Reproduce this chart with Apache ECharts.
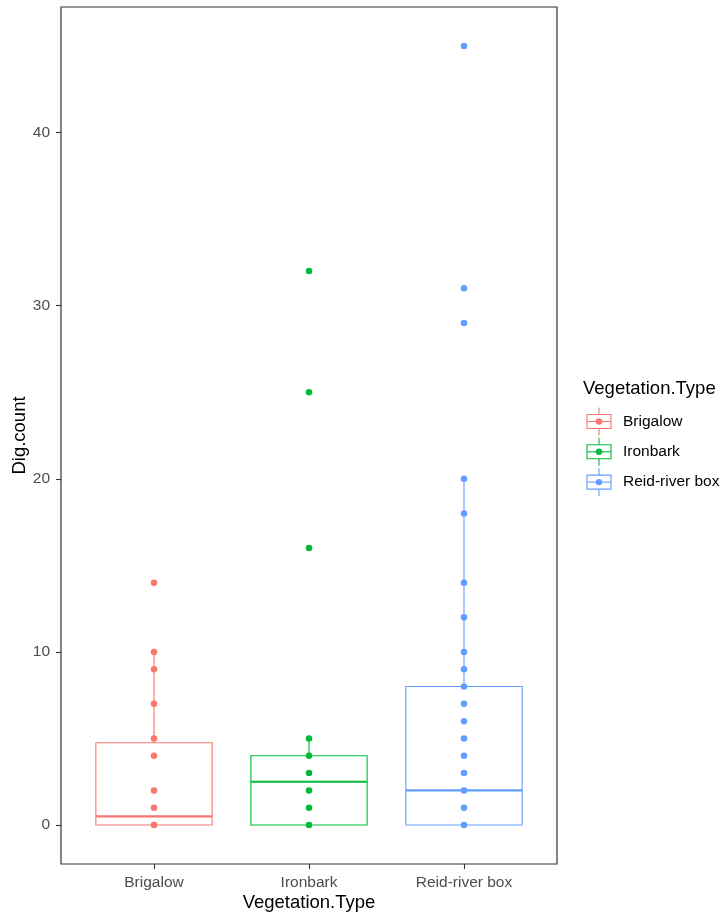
<!DOCTYPE html>
<html>
<head>
<meta charset="utf-8">
<script src="https://cdn.jsdelivr.net/npm/echarts@6/dist/echarts.min.js"></script>
<style>
  html, body { margin: 0; padding: 0; background: #ffffff; }
  #chart { width: 724px; height: 917px; }
</style>
</head>
<body>
<div id="chart"></div>
<script>
// Dig counts per vegetation type
const categories = ['Brigalow', 'Ironbark', 'Reid-river box'];
const colors = ['#F8766D', '#00BA38', '#619CFF'];
const brigalowCounts = [0, 1, 2, 4, 5, 7, 9, 10, 14];
const ironbarkCounts = [0, 1, 2, 3, 4, 5, 16, 25, 32];
const reidRiverCounts = [0, 1, 2, 3, 4, 5, 6, 7, 8, 9, 10, 12, 14, 18, 20, 29, 31, 45];
// Box summaries: [lower whisker, Q1, median, Q3, upper whisker]
const brigalowBox = [0, 0, 0.5, 4.75, 10];
const ironbarkBox = [0, 0, 2.5, 4, 5];
const reidRiverBox = [0, 0, 2, 8, 20];
const yTicks = [0, 10, 20, 30, 40];

const FONT = "'Liberation Sans', Arial, sans-serif";
const groups = [brigalowCounts, ironbarkCounts, reidRiverCounts];
const boxes = [brigalowBox, ironbarkBox, reidRiverBox];

// Boxplot without whisker caps, thick median line
function renderBox(params, api) {
  const x = api.value(0);
  const lo = api.value(1), q1 = api.value(2), med = api.value(3), q3 = api.value(4), hi = api.value(5);
  const half = api.size([0.75, 0])[0] / 2;
  const pQ1 = api.coord([x, q1]);
  const pQ3 = api.coord([x, q3]);
  const pMed = api.coord([x, med]);
  const pLo = api.coord([x, lo]);
  const pHi = api.coord([x, hi]);
  const color = colors[params.dataIndex];
  const children = [
    { type: 'rect', shape: { x: pQ1[0] - half, y: pQ3[1], width: half * 2, height: pQ1[1] - pQ3[1] },
      style: { fill: 'none', stroke: color, lineWidth: 1.1 } },
    { type: 'line', shape: { x1: pQ1[0] - half, y1: pMed[1], x2: pQ1[0] + half, y2: pMed[1] },
      style: { stroke: color, lineWidth: 2.2 } }
  ];
  if (hi > q3) {
    children.push({ type: 'line', shape: { x1: pQ3[0], y1: pQ3[1], x2: pHi[0], y2: pHi[1] },
      style: { stroke: color, lineWidth: 1.1 } });
  }
  if (lo < q1) {
    children.push({ type: 'line', shape: { x1: pQ1[0], y1: pQ1[1], x2: pLo[0], y2: pLo[1] },
      style: { stroke: color, lineWidth: 1.1 } });
  }
  return { type: 'group', children: children };
}

const series = [{
  type: 'custom',
  renderItem: renderBox,
  data: boxes.map((b, i) => [i + 1].concat(b)),
  z: 1,
  silent: true
}];
groups.forEach((vals, i) => {
  series.push({
    type: 'scatter',
    name: categories[i],
    data: vals.map(v => [i + 1, v]),
    symbol: 'circle',
    symbolSize: 6.5,
    itemStyle: { color: colors[i], opacity: 1 },
    z: 3,
    silent: true
  });
});

// Legend keys drawn as small boxplot glyphs
const legendItems = [];
legendItems.push({ type: 'text', left: 583, top: 379,
  style: { text: 'Vegetation.Type', font: '18.5px ' + FONT, fill: '#000000' } });
categories.forEach((name, i) => {
  const cy = 421.5 + i * 30.3;
  legendItems.push(
    { type: 'line', shape: { x1: 599, y1: cy - 14, x2: 599, y2: cy + 14 }, style: { stroke: colors[i], lineWidth: 1.1 } },
    { type: 'rect', shape: { x: 587, y: cy - 7, width: 24, height: 14 }, style: { fill: '#ffffff', stroke: colors[i], lineWidth: 1.1 } },
    { type: 'line', shape: { x1: 587, y1: cy, x2: 611, y2: cy }, style: { stroke: colors[i], lineWidth: 1.1 } },
    { type: 'circle', shape: { cx: 599, cy: cy, r: 3.2 }, style: { fill: colors[i] } },
    { type: 'text', left: 623, top: cy - 8,
      style: { text: name, font: '15.5px ' + FONT, fill: '#000000' } }
  );
});

const chart = echarts.init(document.getElementById('chart'), null, { renderer: 'canvas' });
chart.setOption({
  animation: false,
  backgroundColor: '#ffffff',
  grid: {
    left: 61, right: 167, top: 7, bottom: 53,
    show: true, borderColor: '#333333', borderWidth: 1.2,
    containLabel: false, outerBoundsMode: 'none'
  },
  xAxis: {
    type: 'value', min: 0.4, max: 3.6,
    name: 'Vegetation.Type', nameLocation: 'middle', nameGap: 29, nameMoveOverlap: false,
    nameTextStyle: { fontFamily: FONT, fontSize: 18.5, color: '#000000' },
    axisLine: { show: false, onZero: false },
    splitLine: { show: false },
    axisTick: { show: true, length: 5, lineStyle: { color: '#333333', width: 1.1 }, customValues: [1, 2, 3] },
    axisLabel: {
      customValues: [1, 2, 3], margin: 11,
      formatter: v => categories[Math.round(v) - 1],
      fontFamily: FONT, fontSize: 15.5, color: '#4D4D4D'
    }
  },
  yAxis: {
    type: 'value', min: -2.25, max: 47.25,
    name: 'Dig.count', nameLocation: 'middle', nameGap: 32, nameMoveOverlap: false,
    nameTextStyle: { fontFamily: FONT, fontSize: 18.5, color: '#000000' },
    axisLine: { show: false, onZero: false },
    splitLine: { show: false },
    axisTick: { show: true, length: 5, lineStyle: { color: '#333333', width: 1.1 }, customValues: yTicks },
    axisLabel: {
      customValues: yTicks, margin: 11,
      fontFamily: FONT, fontSize: 15.5, color: '#4D4D4D'
    }
  },
  graphic: legendItems,
  series: series
});
</script>
</body>
</html>
